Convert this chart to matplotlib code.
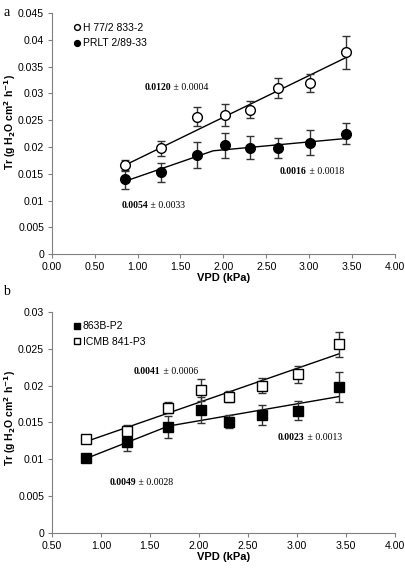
import matplotlib.pyplot as plt
import numpy as np

# panel a data
vpd = [0.85, 1.27, 1.69, 2.02, 2.31, 2.64, 3.01, 3.43]
h77 = [0.0166, 0.0198, 0.0257, 0.0260, 0.0270, 0.0310, 0.0320, 0.0377]
h77_err = [0.0010, 0.0014, 0.0018, 0.0020, 0.0016, 0.0018, 0.0017, 0.0031]
prlt = [0.0140, 0.0153, 0.0185, 0.0203, 0.0199, 0.0198, 0.0208, 0.0225]
prlt_err = [0.0018, 0.0018, 0.0024, 0.0024, 0.0022, 0.0018, 0.0023, 0.0020]
h77_fit_x = [0.85, 3.43]
h77_fit_y = [0.0166, 0.0367]
prlt_fit_x = [0.85, 1.88, 3.43]
prlt_fit_y = [0.0136, 0.0193, 0.0216]

# panel b data
p863 = [0.0102, 0.0124, 0.0144, 0.0167, 0.0151, 0.0160, 0.0166, 0.0198]
p863_err = [0.0003, 0.0013, 0.0015, 0.0018, 0.0009, 0.0013, 0.0013, 0.0021]
icmb = [0.0128, 0.0138, 0.0170, 0.0194, 0.0185, 0.0200, 0.0215, 0.0256]
icmb_err = [0.0003, 0.0009, 0.0007, 0.0015, 0.0007, 0.0010, 0.0012, 0.0017]
p863_fit_x = [0.85, 1.69, 3.43]
p863_fit_y = [0.0101, 0.0145, 0.0185]
icmb_fit_x = [0.85, 3.43]
icmb_fit_y = [0.0124, 0.0243]

plt.rcParams['font.family'] = ['Liberation Sans', 'DejaVu Sans']

fig = plt.figure(figsize=(4.05, 5.7), dpi=100)
ax1 = fig.add_axes([0.128, 0.554, 0.847, 0.423])
ax2 = fig.add_axes([0.128, 0.065, 0.847, 0.388])

ylab = r'Tr (g H$_\mathbf{2}$O cm$^\mathbf{2}$ h$^\mathbf{-1}$)'


def style(ax, ly):
    for s in ['top', 'right']:
        ax.spines[s].set_visible(False)
    for s in ['left', 'bottom']:
        ax.spines[s].set_color('#808080')
    ax.tick_params(direction='out', length=3, color='#808080', labelsize=7.6,
                   pad=2.5)
    ax.set_xlabel('VPD (kPa)', fontsize=8, fontweight='bold', labelpad=1)
    ax.set_ylabel(ylab, fontsize=7.5, fontweight='bold')
    ax.yaxis.set_label_coords(-0.1, ly)


def errs(ax, x, y, e, marker, face, label):
    ax.errorbar(x, y, yerr=e, fmt='none', ecolor='#333333', elinewidth=1,
                capsize=3, capthick=1, zorder=2)
    ax.plot(x, y, marker, ms=7, mfc=face, mec='black', mew=1,
            ls='none', zorder=3, label=label)


def note(ax, x, y, a, b):
    ax.text(x, y, a, fontsize=7, fontweight='bold', ha='right', va='center',
            family='Liberation Serif')
    ax.text(x, y, ' \u00b1 ' + b, fontsize=7, ha='left', va='center',
            family='Liberation Serif')


# panel a
ax1.plot(h77_fit_x, h77_fit_y, 'k-', lw=1, zorder=1)
ax1.plot(prlt_fit_x, prlt_fit_y, 'k-', lw=1, zorder=1)
errs(ax1, vpd, h77, h77_err, 'o', 'white', 'H 77/2 833-2')
errs(ax1, vpd, prlt, prlt_err, 'o', 'black', 'PRLT 2/89-33')
ax1.set_xlim(0, 4)
ax1.set_ylim(0, 0.045)
ax1.set_xticks(np.arange(0, 4.01, 0.5))
ax1.set_xticklabels(['%.2f' % v for v in np.arange(0, 4.01, 0.5)])
ax1.set_yticks(np.arange(0, 0.0451, 0.005))
ax1.set_yticklabels(['0', '0.005', '0.01', '0.015', '0.02', '0.025', '0.03',
                     '0.035', '0.04', '0.045'])
style(ax1, 0.55)
ax1.legend(loc='upper left', bbox_to_anchor=(0.05, 0.98), frameon=False,
           fontsize=7.5, markerscale=0.6, handlelength=0.6, handletextpad=0.2,
           labelspacing=0.5, borderpad=0)
note(ax1, 1.39, 0.0312, '0.0120', '0.0004')
note(ax1, 2.97, 0.0155, '0.0016', '0.0018')
note(ax1, 1.12, 0.0090, '0.0054', '0.0033')

# panel b
ax2.plot(icmb_fit_x, icmb_fit_y, 'k-', lw=1, zorder=1)
ax2.plot(p863_fit_x, p863_fit_y, 'k-', lw=1, zorder=1)
errs(ax2, vpd, p863, p863_err, 's', 'black', '863B-P2')
errs(ax2, vpd, icmb, icmb_err, 's', 'white', 'ICMB 841-P3')
ax2.set_xlim(0.5, 4)
ax2.set_ylim(0, 0.03)
ax2.set_xticks(np.arange(0.5, 4.01, 0.5))
ax2.set_xticklabels(['%.2f' % v for v in np.arange(0.5, 4.01, 0.5)])
ax2.set_yticks(np.arange(0, 0.0301, 0.005))
ax2.set_yticklabels(['0', '0.005', '0.01', '0.015', '0.02', '0.025', '0.03'])
style(ax2, 0.52)
ax2.legend(loc='upper left', bbox_to_anchor=(0.05, 0.98), frameon=False,
           fontsize=7.5, markerscale=0.6, handlelength=0.6, handletextpad=0.2,
           labelspacing=0.5, borderpad=0)
note(ax2, 1.61, 0.0219, '0.0041', '0.0006')
note(ax2, 3.08, 0.0130, '0.0023', '0.0013')
note(ax2, 1.36, 0.0068, '0.0049', '0.0028')

fig.text(0.008, 0.99, 'a', fontsize=10, family='Liberation Serif', va='top')
fig.text(0.008, 0.50, 'b', fontsize=10, family='Liberation Serif', va='top')

plt.savefig('out.png', dpi=100)
